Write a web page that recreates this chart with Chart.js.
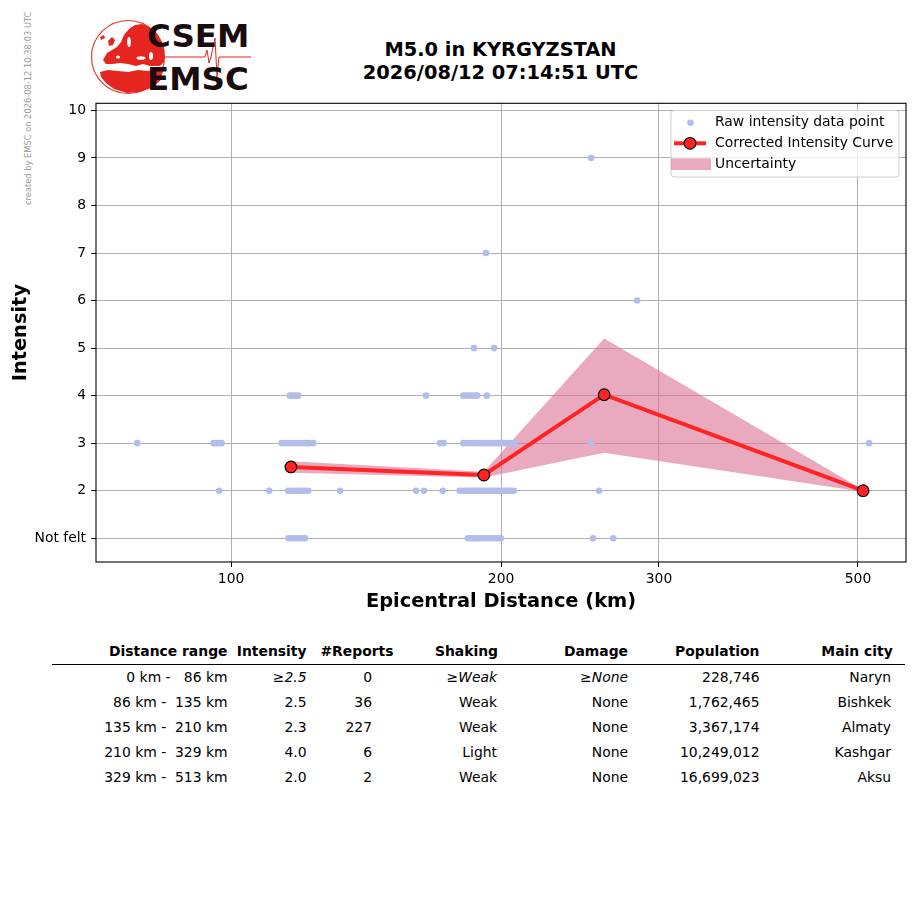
<!DOCTYPE html>
<html><head><meta charset="utf-8">
<script src="https://cdn.jsdelivr.net/npm/chart.js@4.4.1/dist/chart.umd.min.js"></script>
<style>
html,body{margin:0;padding:0;background:#fff;}
body{width:915px;height:905px;position:relative;overflow:hidden;font-family:'DejaVu Sans',sans-serif;}
#chartWrap{position:absolute;left:0;top:0;width:915px;height:640px;}
#title{position:absolute;left:300px;width:401px;top:37.6px;text-align:center;font-weight:bold;font-size:19.4px;line-height:23.3px;color:#000;}
#wm{position:absolute;left:23px;top:205px;transform-origin:0 0;transform:rotate(-90deg);font-size:8.3px;line-height:10px;color:#9a9a9a;white-space:nowrap;}
.cell{position:absolute;font-size:13.9px;line-height:16px;white-space:pre;color:#000;text-align:right;}
.hdr{font-weight:bold;}
.it{font-style:italic;}
#hline{position:absolute;left:52px;width:853px;top:663.8px;height:1.5px;background:#000;}
#logo{position:absolute;left:0;top:0;}
</style>
</head><body>
<svg id="logo" width="270" height="100">
  <circle cx="128" cy="57" r="36.5" fill="none" stroke="#e8392e" stroke-width="1.2"/>
  <path d="M103,60 L107,53 L112,50 L117,47 L121,42 L124,35 L129,29 L135,25 L142,24 L149,27 L156,32 L161,40 L164,50 L164,62 L160,66 L150,66 L143,64 L136,66 L128,64 L120,63 L112,64 L106,64 Z" fill="#e52520"/>
  <path d="M100,72 L108,70 L118,71 L128,72 L138,70 L148,71 L158,69 L163,71 L160,81 L151,88 L140,92 L127,93 L114,89 L106,83 L101,77 Z" fill="#e52520"/>
  <path d="M108,41 L112,37 L115,40 L113,45 L109,46 Z" fill="#e52520"/>
  <path d="M100,37 L104,35 L105,38 L101,40 Z" fill="#e52520"/>
  <ellipse cx="129" cy="42" rx="1.8" ry="5" fill="#fff"/>
  <ellipse cx="141" cy="58" rx="4.5" ry="1.8" fill="#fff"/>
  <ellipse cx="118" cy="57" rx="2" ry="1.6" fill="#fff"/>
  <ellipse cx="151" cy="56" rx="2" ry="4" fill="#fff"/>
  <polyline points="163,57 205,57 207,50 209,63 211,57 215,38 217,77 219,57 251,57" fill="none" stroke="#e52520" stroke-width="1"/>
  <text x="147" y="46.7" font-family="DejaVu Sans" font-weight="bold" font-size="32.5" fill="#1a0c0c">CSEM</text>
  <text x="147" y="90.2" font-family="DejaVu Sans" font-weight="bold" font-size="32.5" fill="#1a0c0c">EMSC</text>
</svg>
<div id="wm">created by EMSC on 2026-08-12 10:38:03 UTC</div>
<div id="title">M5.0 in KYRGYZSTAN<br>2026/08/12 07:14:51 UTC</div>
<div id="chartWrap"><canvas id="c" width="915" height="640"></canvas></div>
<div id="hline"></div>
<div id="table"></div>
<script>
// ---------- DATA ----------
const xTickValues = [100, 200, 300, 500];
const xTickLabels = ['100', '200', '300', '500'];
const yTickValues = [1, 2, 3, 4, 5, 6, 7, 8, 9, 10];
const yTickLabels = ['Not felt', '2', '3', '4', '5', '6', '7', '8', '9', '10'];

// raw intensity data points: epicentral distance (km) per intensity level
const rawDistNotFelt = [115.9, 116.8, 117.5, 118.3, 119.2, 120.0, 120.9, 183.7, 184.9, 186.2, 187.4, 188.1, 189.3, 190.6, 191.8, 192.5, 193.9, 195.2, 196.1, 197.4, 198.6, 199.9, 253.3, 266.7];
const rawDist2 = [97.0, 110.3, 115.8, 116.7, 117.6, 118.4, 119.3, 120.1, 121.0, 121.9, 132.3, 160.8, 164.1, 172.2, 179.8, 181.0, 182.3, 183.5, 184.6, 185.9, 187.0, 188.4, 189.5, 190.7, 192.0, 193.2, 194.4, 195.6, 196.9, 198.1, 199.3, 200.6, 201.8, 202.7, 204.2, 205.3, 206.6, 257.2, 506.6];
const rawDist3 = [78.6, 95.6, 96.3, 97.1, 97.6, 113.9, 114.8, 115.6, 116.5, 117.4, 118.2, 119.1, 120.0, 120.8, 121.6, 122.1, 123.5, 171.0, 172.6, 181.5, 183.0, 184.4, 185.9, 187.3, 188.6, 190.0, 191.4, 192.7, 194.1, 195.5, 196.8, 198.2, 199.6, 200.9, 202.3, 203.6, 205.0, 206.2, 207.4, 252.0, 514.5];
const rawDist4 = [116.3, 117.1, 118.0, 118.8, 165.0, 181.5, 182.9, 184.3, 185.7, 187.1, 188.0, 192.8];
const rawDist5 = [186.6, 196.5];
const rawDist6 = [283.6];
const rawDist7 = [192.4];
const rawDist9 = [252.0];

// corrected intensity curve and uncertainty band
const curveDistance = [116.6, 191.4, 260.6, 506.6];
const curveIntensity = [2.5, 2.33, 4.02, 2.0];
const bandUpper = [2.62, 2.40, 5.20, 2.02];
const bandLower = [2.38, 2.28, 2.80, 1.98];

const legendLabels = ['Raw intensity data point', 'Corrected Intensity Curve', 'Uncertainty'];

// table
const tableHeaders = ['Distance range', 'Intensity', '#Reports', 'Shaking', 'Damage', 'Population', 'Main city'];
const tableDistRange = ['0 km -   86 km', '86 km -  135 km', '135 km -  210 km', '210 km -  329 km', '329 km -  513 km'];
const tableIntensity = ['≥2.5', '2.5', '2.3', '4.0', '2.0'];
const tableReports = ['0', '36', '227', '6', '2'];
const tableShaking = ['≥Weak', 'Weak', 'Weak', 'Light', 'Weak'];
const tableDamage = ['≥None', 'None', 'None', 'None', 'None'];
const tablePopulation = ['228,746', '1,762,465', '3,367,174', '10,249,012', '16,699,023'];
const tableCity = ['Naryn', 'Bishkek', 'Almaty', 'Kashgar', 'Aksu'];

// ---------- STYLE ----------
const rawColor = '#b2bee9';
const curveColor = '#ff2323';
const bandColor = 'rgba(219,112,147,0.6)';

// ---------- BUILD ----------
const rawSets = [[1, rawDistNotFelt], [2, rawDist2], [3, rawDist3], [4, rawDist4], [5, rawDist5], [6, rawDist6], [7, rawDist7], [9, rawDist9]];
const rawPoints = [];
rawSets.forEach(([lvl, arr]) => arr.forEach(d => rawPoints.push({x: d, y: lvl})));
const zip = (xs, ys) => xs.map((x, i) => ({x: x, y: ys[i]}));

const framePlugin = {
  id: 'frame',
  afterDatasetsDraw(chart) {
    const {ctx, chartArea: a} = chart;
    ctx.save();
    ctx.strokeStyle = '#000';
    ctx.lineWidth = 1.1;
    ctx.strokeRect(a.left, a.top, a.right - a.left, a.bottom - a.top);
    ctx.restore();
  }
};

const legendPlugin = {
  id: 'mplLegend',
  afterDraw(chart) {
    const ctx = chart.ctx;
    ctx.save();
    const x = 671, y = 110.5, w = 228, h = 66.5, r = 3;
    ctx.beginPath();
    ctx.moveTo(x + r, y);
    ctx.lineTo(x + w - r, y); ctx.arcTo(x + w, y, x + w, y + r, r);
    ctx.lineTo(x + w, y + h - r); ctx.arcTo(x + w, y + h, x + w - r, y + h, r);
    ctx.lineTo(x + r, y + h); ctx.arcTo(x, y + h, x, y + h - r, r);
    ctx.lineTo(x, y + r); ctx.arcTo(x, y, x + r, y, r);
    ctx.closePath();
    ctx.fillStyle = 'rgba(255,255,255,0.8)';
    ctx.fill();
    ctx.strokeStyle = '#cfcfcf';
    ctx.lineWidth = 1;
    ctx.stroke();
    ctx.fillStyle = rawColor;
    ctx.beginPath(); ctx.arc(690.5, 122.7, 3.3, 0, 2 * Math.PI); ctx.fill();
    ctx.strokeStyle = curveColor; ctx.lineWidth = 4;
    ctx.beginPath(); ctx.moveTo(674, 143.3); ctx.lineTo(706, 143.3); ctx.stroke();
    ctx.beginPath(); ctx.arc(690, 143.3, 5.8, 0, 2 * Math.PI);
    ctx.fillStyle = curveColor; ctx.fill();
    ctx.lineWidth = 1.2; ctx.strokeStyle = '#000'; ctx.stroke();
    ctx.fillStyle = bandColor;
    ctx.fillRect(671, 158.3, 40, 11.7);
    ctx.fillStyle = '#000';
    ctx.font = '13.9px "DejaVu Sans"';
    ctx.textBaseline = 'middle';
    ctx.textAlign = 'left';
    ctx.fillText(legendLabels[0], 715, 122.7);
    ctx.fillText(legendLabels[1], 715, 143.5);
    ctx.fillText(legendLabels[2], 715, 164.3);
    ctx.restore();
  }
};

Chart.defaults.font.family = "'DejaVu Sans'";
Chart.defaults.color = '#000';

new Chart(document.getElementById('c'), {
  type: 'scatter',
  data: {
    datasets: [
      {
        type: 'line', label: legendLabels[1], data: zip(curveDistance, curveIntensity),
        borderColor: curveColor, borderWidth: 4, backgroundColor: curveColor,
        pointRadius: 5.8, pointBackgroundColor: curveColor, pointBorderColor: '#000', pointBorderWidth: 1.2,
        fill: false, tension: 0, order: 0
      },
      {
        type: 'scatter', label: legendLabels[0], data: rawPoints,
        backgroundColor: rawColor, borderWidth: 0, pointRadius: 3.3, order: 1
      },
      {
        type: 'line', label: legendLabels[2], data: zip(curveDistance, bandUpper),
        borderColor: 'rgba(0,0,0,0)', borderWidth: 0, pointRadius: 0,
        backgroundColor: bandColor, fill: '+1', tension: 0, order: 2
      },
      {
        type: 'line', label: 'lower', data: zip(curveDistance, bandLower),
        borderColor: 'rgba(0,0,0,0)', borderWidth: 0, pointRadius: 0,
        fill: false, tension: 0, order: 3
      }
    ]
  },
  options: {
    responsive: false,
    animation: false,
    devicePixelRatio: 1,
    layout: {padding: {top: 103.3, right: 9, left: 0, bottom: 0}},
    plugins: {legend: {display: false}, tooltip: {enabled: false}},
    scales: {
      x: {
        type: 'logarithmic', min: 70.7, max: 565.6, bounds: 'data',
        afterBuildTicks: s => { s.ticks = xTickValues.map(v => ({value: v})); },
        afterFit: s => { s.height = 78; },
        ticks: {callback: (v, i) => xTickLabels[i], autoSkip: false, maxRotation: 0, padding: 4, font: {size: 13.9}, color: '#000'},
        grid: {color: '#b0b0b0', lineWidth: 1, tickColor: '#000', tickLength: 5, drawTicks: true},
        border: {display: false},
        title: {display: true, text: 'Epicentral Distance (km)', font: {size: 19.4, weight: 'bold'}, padding: {top: 0, bottom: 26}, color: '#000'}
      },
      y: {
        type: 'linear', min: 0.5, max: 10.15, bounds: 'data',
        afterBuildTicks: s => { s.ticks = yTickValues.map(v => ({value: v})); },
        afterFit: s => { s.width = 96; },
        ticks: {callback: (v, i) => yTickLabels[i], autoSkip: false, padding: 5, font: {size: 13.9}, color: '#000'},
        grid: {color: '#b0b0b0', lineWidth: 1, tickColor: '#000', tickLength: 5, drawTicks: true},
        border: {display: false},
        title: {display: true, text: 'Intensity', font: {size: 19.4, weight: 'bold'}, padding: {top: 9, bottom: 0}, color: '#000'}
      }
    }
  },
  plugins: [framePlugin, legendPlugin]
});

// ---------- TABLE ----------
const table = document.getElementById('table');
const headerRight = [227.5, 306.5, 393.5, 498, 628, 759.5, 892.7];
const valueRight = [227.5, 306.5, 372, 497, 628, 759.5, 891];
function addCell(text, right, centerY, cls) {
  const d = document.createElement('div');
  d.className = 'cell ' + (cls || '');
  d.textContent = text;
  d.style.right = (915 - right) + 'px';
  d.style.top = (centerY - 7.9) + 'px';
  table.appendChild(d);
}
tableHeaders.forEach((h, i) => addCell(h, headerRight[i], 651, 'hdr'));
const cols = [tableDistRange, tableIntensity, tableReports, tableShaking, tableDamage, tablePopulation, tableCity];
for (let r = 0; r < tableDistRange.length; r++) {
  const cy = 676.7 + 25 * r;
  cols.forEach((col, c) => {
    const italic = (r === 0 && (c === 1 || c === 3 || c === 4));
    addCell(col[r], valueRight[c], cy, italic ? 'it' : '');
  });
}
</script>
</body></html>
